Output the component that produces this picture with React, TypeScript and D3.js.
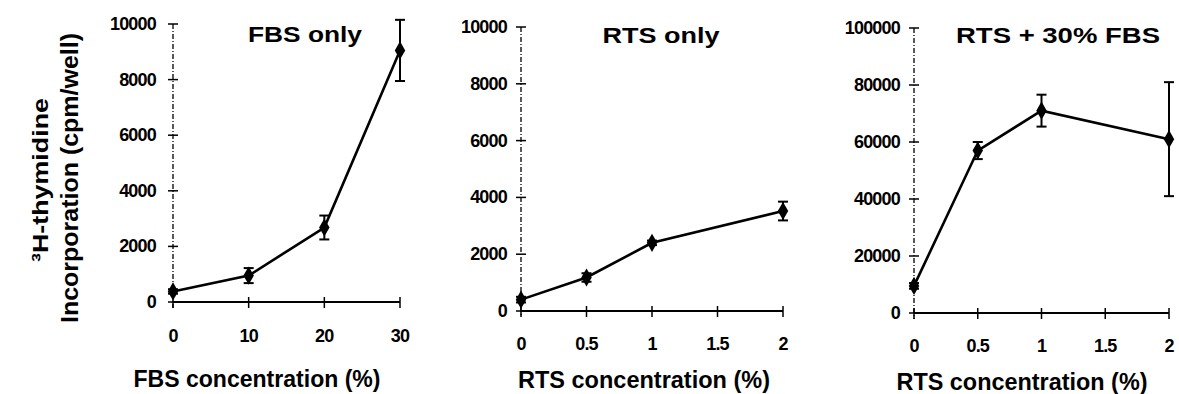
import React from "react";
import * as d3 from "d3";

const fbsConc = [0, 10, 20, 30];
const fbsOnly = [380, 950, 2680, 9050];
const fbsOnlyErr = [80, 270, 430, 1100];

const rtsConc = [0, 0.5, 1, 2];
const rtsOnly = [400, 1180, 2400, 3520];
const rtsOnlyErr = [100, 150, 80, 330];

const rtsFbs = [9500, 57000, 71000, 61000];
const rtsFbsErr = [1000, 3000, 5600, 20000];

const fbsXTicks = [0, 10, 20, 30];
const rtsXTicks = [0, 0.5, 1, 1.5, 2];
const yTicksSmall = [0, 2000, 4000, 6000, 8000, 10000];
const yTicksLarge = [0, 20000, 40000, 60000, 80000, 100000];

const panelTitles = ["FBS only", "RTS only", "RTS + 30% FBS"];
const xTitles = ["FBS concentration (%)", "RTS concentration (%)", "RTS concentration (%)"];

const FONT = "'Liberation Sans', Arial, sans-serif";

type PanelProps = {
  xs: number[]; ys: number[]; errs: number[];
  xTicks: number[]; yTicks: number[];
  xDomain: [number, number]; yMax: number;
  x0: number; x1: number; yBottom: number; yTop: number;
  title: string; titleX: number; titleY: number; titleLen: number;
  xTitle: string; xTitleX: number; xTitleY: number; xTitleLen: number;
  tickLabelY: number; yLabelGap: number;
};

function Panel(p: PanelProps) {
  const x = d3.scaleLinear().domain(p.xDomain).range([p.x0, p.x1]);
  const y = d3.scaleLinear().domain([0, p.yMax]).range([p.yBottom, p.yTop]);
  const pts = p.xs.map((v, i) => [x(v), y(p.ys[i])] as [number, number]);
  const line = d3.line()(pts) || "";
  const diamond = d3.symbol().type(d3.symbolDiamond).size(95)() || "";
  return (
    <g>
      <line x1={p.x0} x2={p.x0} y1={y(p.yMax)} y2={p.yBottom + 6} stroke="#000" strokeWidth={1.3} strokeDasharray="5,2,1,2" />
      {p.yTicks.map((t) => (
        <g key={"yt" + t}>
          <line x1={p.x0 - 5} x2={p.x0 + 5} y1={y(t)} y2={y(t)} stroke="#000" strokeWidth={1.5} />
          <text x={p.x0 - p.yLabelGap} y={y(t) + 6} textAnchor="end" fontSize={18} fontWeight="bold" fontFamily={FONT} letterSpacing={-0.8}>{t}</text>
        </g>
      ))}
      <line x1={p.x0} x2={p.x1} y1={p.yBottom} y2={p.yBottom} stroke="#000" strokeWidth={2} />
      {p.xTicks.map((t) => (
        <g key={"xt" + t}>
          <line x1={x(t)} x2={x(t)} y1={p.yBottom - 5} y2={p.yBottom + 6} stroke="#000" strokeWidth={1.5} />
          <text x={x(t)} y={p.tickLabelY} textAnchor="middle" fontSize={18} fontWeight="bold" fontFamily={FONT} letterSpacing={-0.8}>{t}</text>
        </g>
      ))}
      {p.xs.map((v, i) => {
        const cx = x(v);
        const hi = y(p.ys[i] + p.errs[i]);
        const lo = y(p.ys[i] - p.errs[i]);
        return (
          <g key={"e" + i} stroke="#000" strokeWidth={2}>
            <line x1={cx} x2={cx} y1={hi} y2={lo} />
            <line x1={cx - 5} x2={cx + 5} y1={hi} y2={hi} />
            <line x1={cx - 5} x2={cx + 5} y1={lo} y2={lo} />
          </g>
        );
      })}
      <path d={line} fill="none" stroke="#000" strokeWidth={2.6} />
      {pts.map((pt, i) => (
        <path key={"m" + i} d={diamond} transform={`translate(${pt[0]},${pt[1]})`} fill="#000" />
      ))}
      <text x={p.titleX} y={p.titleY} textAnchor="middle" fontSize={22} fontWeight="bold" fontFamily={FONT} textLength={p.titleLen} lengthAdjust="spacingAndGlyphs">{p.title}</text>
      <text x={p.xTitleX} y={p.xTitleY} textAnchor="middle" fontSize={23} fontWeight="bold" fontFamily={FONT} textLength={p.xTitleLen} lengthAdjust="spacingAndGlyphs">{p.xTitle}</text>
    </g>
  );
}

export default function App() {
  return (
    <svg width={1179} height={394} style={{ position: "absolute", left: 0, top: 0, background: "#fff" }}>
      <rect width={1179} height={394} fill="#fff" />
      <Panel xs={fbsConc} ys={fbsOnly} errs={fbsOnlyErr} xTicks={fbsXTicks} yTicks={yTicksSmall}
        xDomain={[0, 30]} yMax={10000} x0={173} x1={400} yBottom={302} yTop={24}
        title={panelTitles[0]} titleX={305} titleY={42} titleLen={114}
        xTitle={xTitles[0]} xTitleX={257} xTitleY={387} xTitleLen={247}
        tickLabelY={342} yLabelGap={17} />
      <Panel xs={rtsConc} ys={rtsOnly} errs={rtsOnlyErr} xTicks={rtsXTicks} yTicks={yTicksSmall}
        xDomain={[0, 2]} yMax={10000} x0={521} x1={783} yBottom={311} yTop={27}
        title={panelTitles[1]} titleX={661} titleY={43} titleLen={117}
        xTitle={xTitles[1]} xTitleX={644} xTitleY={388} xTitleLen={252}
        tickLabelY={350} yLabelGap={14} />
      <Panel xs={rtsConc} ys={rtsFbs} errs={rtsFbsErr} xTicks={rtsXTicks} yTicks={yTicksLarge}
        xDomain={[0, 2]} yMax={100000} x0={914} x1={1169} yBottom={313} yTop={28}
        title={panelTitles[2]} titleX={1058} titleY={43} titleLen={204}
        xTitle={xTitles[2]} xTitleX={1022} xTitleY={390} xTitleLen={251}
        tickLabelY={352} yLabelGap={14} />
      <g fontFamily={FONT} fontWeight="bold">
        <text transform="translate(48,180) rotate(-90)" textAnchor="middle" fontSize={22} textLength={164} lengthAdjust="spacingAndGlyphs">³H-thymidine</text>
        <text transform="translate(78,178) rotate(-90)" textAnchor="middle" fontSize={24} textLength={290} lengthAdjust="spacingAndGlyphs">Incorporation (cpm/well)</text>
      </g>
    </svg>
  );
}
